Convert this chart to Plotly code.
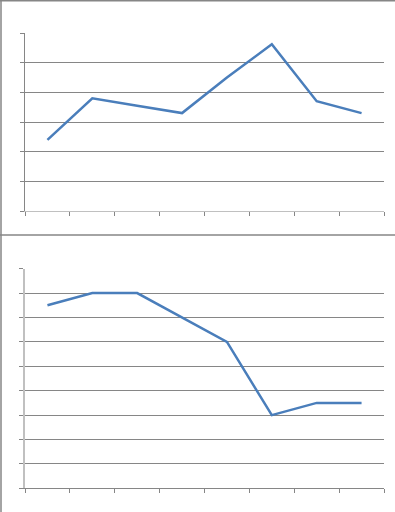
import plotly.graph_objects as go

categories = ["1", "2", "3", "4", "5", "6", "7", "8"]
top_values = [2.4, 3.8, 3.55, 3.3, 4.5, 5.62, 3.7, 3.3]
bottom_values = [7.5, 8.0, 8.0, 7.0, 6.0, 3.0, 3.5, 3.5]

W, H = 395, 512
LINE = "#4A7EBB"
GRID = "#868686"
LIGHT = "#C0C0C0"

fig = go.Figure()
fig.add_trace(go.Scatter(x=categories, y=top_values, mode="lines",
                         line=dict(color=LINE, width=2.5), xaxis="x", yaxis="y",
                         showlegend=False, hoverinfo="skip"))
fig.add_trace(go.Scatter(x=categories, y=bottom_values, mode="lines",
                         line=dict(color=LINE, width=2.5), xaxis="x2", yaxis="y2",
                         showlegend=False, hoverinfo="skip"))

def px_x(p):
    return p / W

def px_y(p):
    return 1 - p / H

xdom = [px_x(25), px_x(384)]
xcommon = dict(type="category", range=[-0.5, 7.5], showticklabels=False,
               ticks="outside", tickson="boundaries", ticklen=4, tickcolor=GRID,
               showline=True, linewidth=1, showgrid=False,
               zeroline=False, fixedrange=True)
ycommon = dict(showticklabels=False, ticks="outside", ticklen=4, tickcolor=GRID,
               showline=True, showgrid=True,
               gridcolor=GRID, gridwidth=1, zeroline=False, fixedrange=True, dtick=1)

fig.update_layout(
    width=W, height=H, margin=dict(l=0, r=0, t=0, b=0),
    paper_bgcolor="white", plot_bgcolor="white",
    xaxis=dict(domain=xdom, anchor="y", linecolor=LIGHT, **xcommon),
    yaxis=dict(domain=[px_y(211), px_y(33)], anchor="x", range=[0, 6],
               linecolor=GRID, linewidth=1, **ycommon),
    xaxis2=dict(domain=xdom, anchor="y2", linecolor=GRID, **xcommon),
    yaxis2=dict(domain=[px_y(488.3), px_y(268.7)], anchor="x2", range=[0, 9],
                linecolor=LIGHT, linewidth=1.5, **ycommon),
    shapes=[
        dict(type="line", xref="paper", yref="paper", x0=px_x(1), x1=px_x(1), y0=0, y1=1,
             line=dict(color=GRID, width=1.5)),
        dict(type="line", xref="paper", yref="paper", x0=0, x1=1, y0=px_y(0.7), y1=px_y(0.7),
             line=dict(color=GRID, width=1.5)),
        dict(type="line", xref="paper", yref="paper", x0=0, x1=1, y0=px_y(235), y1=px_y(235),
             line=dict(color=GRID, width=1.5)),
    ],
)

fig.write_html("out.html", config={"displayModeBar": False, "responsive": False})
